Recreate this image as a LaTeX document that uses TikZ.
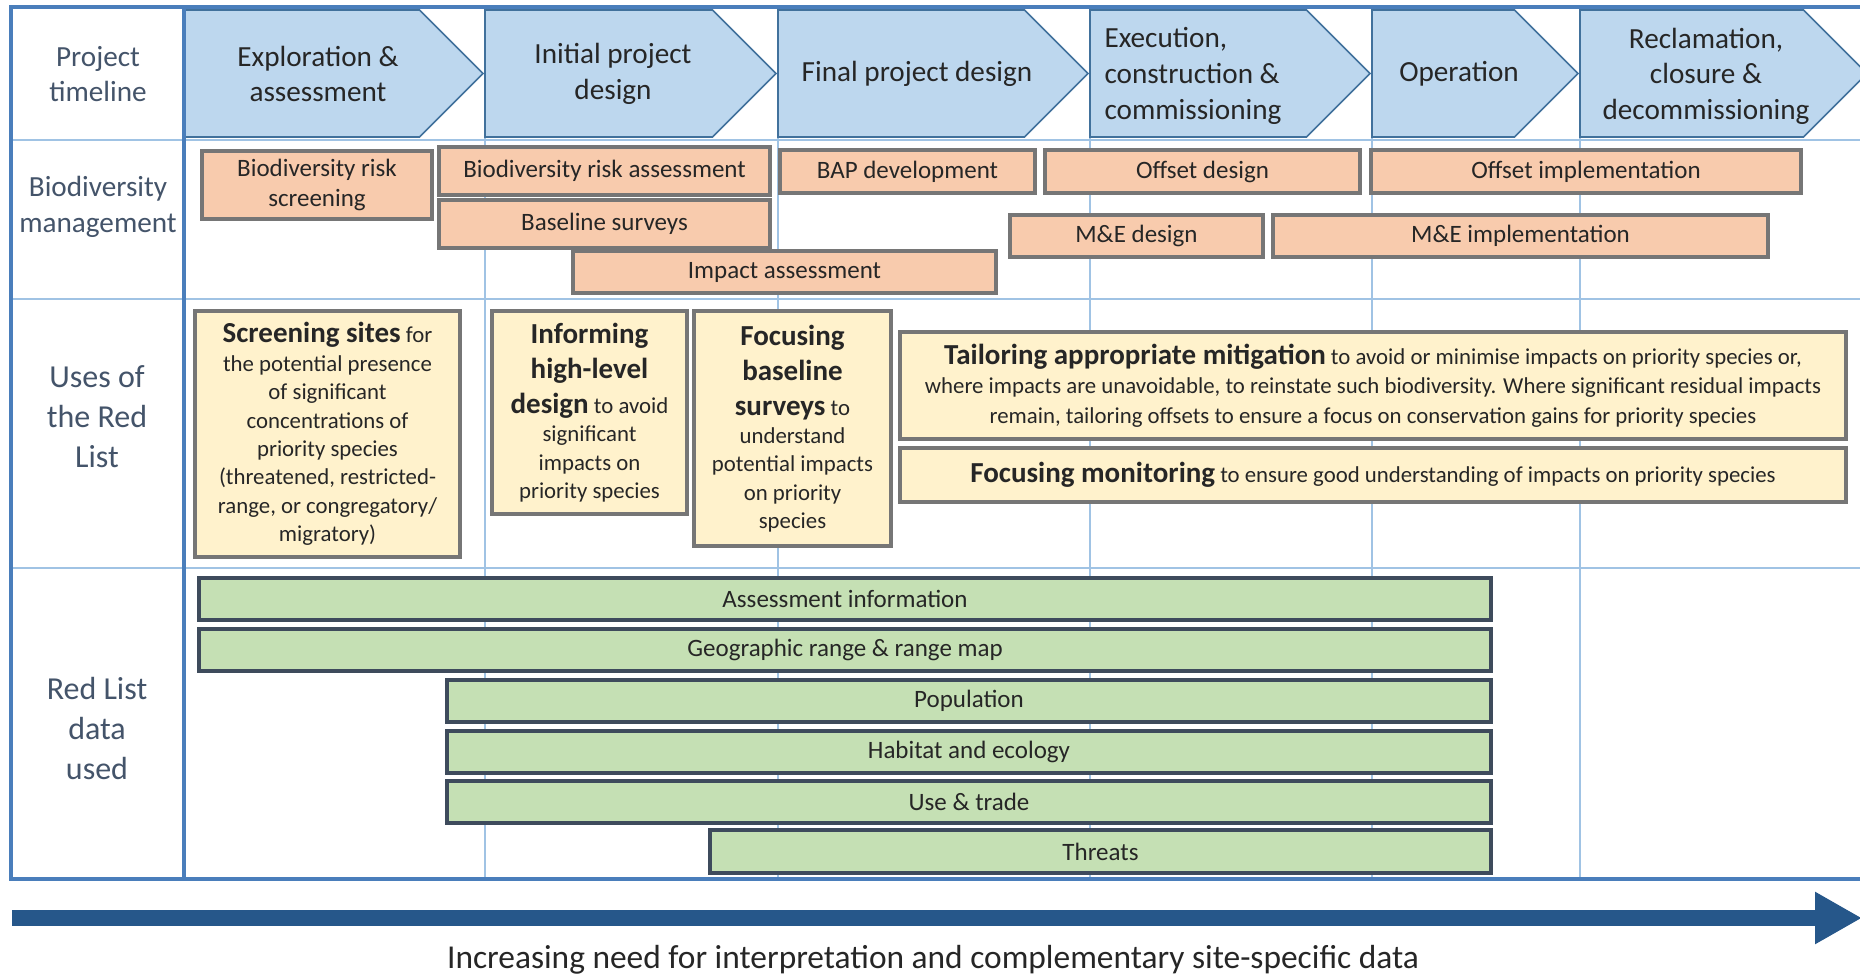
\documentclass[tikz,border=0pt]{standalone}
\usepackage{fontspec}
\setmainfont{Carlito}
\usepackage{xcolor}
\usepackage{tikz}
\definecolor{phasefill}{RGB}{189, 215, 238}
\definecolor{phaseedge}{RGB}{65, 113, 156}
\definecolor{frameblue}{RGB}{74, 126, 187}
\definecolor{gridblue}{RGB}{160, 195, 228}
\definecolor{labelgray}{RGB}{68, 84, 106}
\definecolor{orangefill}{RGB}{248, 203, 173}
\definecolor{creamfill}{RGB}{255, 242, 204}
\definecolor{greenfill}{RGB}{197, 224, 180}
\definecolor{boxgray}{RGB}{118, 118, 118}
\definecolor{greenedge}{RGB}{62, 75, 92}
\definecolor{arrowblue}{RGB}{38, 87, 138}
\definecolor{textdark}{RGB}{38, 38, 38}
\usetikzlibrary{arrows.meta}
\newcommand{\bfhead}[1]{{\fontsize{14.5}{17.5}\selectfont\bfseries #1}}

\begin{document}
\begin{tikzpicture}[
    x=0.5pt, y=-0.5pt,
    cell/.style args={#1/#2/#3/#4}{at={({(#1+#3)/2},{(#2+#4)/2})},
                  minimum width={(#3-#1)*0.5pt}, minimum height={(#4-#2)*0.5pt}},
    rowlabel/.style={align=center, text=labelgray, font=\fontsize{14.6}{17.8}\selectfont},
    biglabel/.style={align=center, text=labelgray, font=\fontsize{16}{20}\selectfont},
    phasebox/.style={fill=phasefill, draw=phaseedge, line width=0.8pt},
    phasetext/.style={align=center, text=textdark, font=\fontsize{14.6}{17.8}\selectfont},
    gridline/.style={draw=gridblue, line width=0.8pt},
    taskbox/.style={rectangle, draw=boxgray, fill=orangefill, line width=2pt, inner sep=0pt,
                    align=center, text=textdark, font=\fontsize{12.5}{15.4}\selectfont},
    usebox/.style={rectangle, draw=boxgray, fill=creamfill, line width=2pt, inner sep=0pt,
                   align=center, text=textdark, font=\fontsize{11.4}{14.2}\selectfont},
    databar/.style={rectangle, draw=greenedge, fill=greenfill, line width=2pt, inner sep=0pt,
                    align=center, text=textdark, font=\fontsize{12.5}{15}\selectfont}
]
    \path[use as bounding box, fill=white] (0,0) rectangle (1860,975);

    % grid
    \foreach \gx in {485, 778, 1090, 1372, 1580}
        \draw[gridline] (\gx,7) -- (\gx,879);
    \foreach \gy in {140, 299, 568}
        \draw[gridline] (11,\gy) -- (1862,\gy);

    % project timeline
    \foreach \a/\b in {184/483, 485/776, 778/1088, 1090/1370, 1372/1578, 1580/1867}
        \draw[phasebox] (\a,10) -- ({\b-63.5},10) -- (\b,73.5) -- ({\b-63.5},137) -- (\a,137) -- cycle;
    \node[phasetext] (ph1) at (318,74) {Exploration \&\\assessment};
    \node[phasetext] (ph2) at (613,74) {Initial project\\design};
    \node[phasetext] (ph3) at (917,74) {Final project design};
    \node[phasetext, align=left] (ph4) at (1193,76) {Execution,\\construction \&\\commissioning};
    \node[phasetext] (ph5) at (1459,74) {Operation};
    \node[phasetext] (ph6) at (1706,76) {Reclamation,\\closure \&\\decommissioning};

    % frame
    \draw[frameblue, line width=2pt] (1862,7) -- (11,7) -- (11,879) -- (1862,879);
    \draw[frameblue, line width=2.4pt] (184,7) -- (184,879);

    % row labels
    \node[rowlabel] (lbltime) at (98,74) {Project\\timeline};
    \node[rowlabel] (lblbio) at (98,207) {Biodiversity\\management};
    \node[biglabel] (lbluses) at (97,417) {Uses of\\the Red\\List};
    \node[biglabel] (lbldata) at (97,728) {Red List\\data\\used};

    % biodiversity management
    \node[taskbox, cell=202/151/432/219] (riskscr) {Biodiversity risk\\screening};
    \node[taskbox, cell=439/147/770/195] (riskass) {Biodiversity risk assessment};
    \node[taskbox, cell=439/200/770/248] (baseline) {Baseline surveys};
    \node[taskbox, cell=573/251/996/293] (impact) {Impact assessment};
    \node[taskbox, cell=780/150/1035/193] (bap) {BAP development};
    \node[taskbox, cell=1045/150/1360/193] (offdes) {Offset design};
    \node[taskbox, cell=1371/150/1801/193] (offimp) {Offset implementation};
    \node[taskbox, cell=1010/215/1263/257] (medes) {M\&E design};
    \node[taskbox, cell=1273/215/1768/257] (meimp) {M\&E implementation};

    % uses of the red list
    \node[usebox, cell=195/311/460/557] (sites) {\bfhead{Screening sites} for\\
        the potential presence\\ of significant\\ concentrations of\\ priority species\\
        (threatened, restricted-\\ range, or congregatory/\\ migratory)};
    \node[usebox, cell=492/311/687/514] (design) {\bfhead{Informing}\\[3.3pt]
        \bfhead{high-level}\\[3.3pt] \bfhead{design} to avoid\\ significant\\ impacts on\\ priority species};
    \node[usebox, cell=694/311/891/546] (surveys) {\bfhead{Focusing}\\[3.3pt]
        \bfhead{baseline}\\[3.3pt] \bfhead{surveys} to\\ understand\\ potential impacts\\ on priority\\ species};
    \node[usebox, cell=900/332/1846/439] (mitig) {\bfhead{Tailoring appropriate mitigation} to avoid or minimise impacts on priority species or,\\[0.6pt]
        where impacts are unavoidable, to reinstate such biodiversity. Where significant residual impacts\\[0.6pt]
        remain, tailoring offsets to ensure a focus on conservation gains for priority species};
    \node[usebox, cell=900/448/1846/502] (monit) {\bfhead{Focusing monitoring} to ensure good understanding of impacts on priority species};

    % red list data used
    \node[databar, cell=199/578/1491/620] (assess) {Assessment information};
    \node[databar, cell=199/629/1491/671] (georange) {Geographic range \& range map};
    \node[databar, cell=447/680/1491/722] (popul) {Population};
    \node[databar, cell=447/731/1491/773] (habitat) {Habitat and ecology};
    \node[databar, cell=447/781/1491/823] (usetrade) {Use \& trade};
    \node[databar, cell=710/830/1491/873] (threats) {Threats};

    % arrow
    \coordinate (arrS) at (12,918);
    \coordinate (arrE) at (1862,918);
    \draw[arrowblue, line width=8pt, -{Triangle[length=23.5pt, width=24.5pt]}] (arrS) -- (arrE);
    \node[text=textdark, font=\fontsize{16.7}{19}\selectfont] (need) at (933,960)
        {Increasing need for interpretation and complementary site-specific data};
\end{tikzpicture}
\end{document}
